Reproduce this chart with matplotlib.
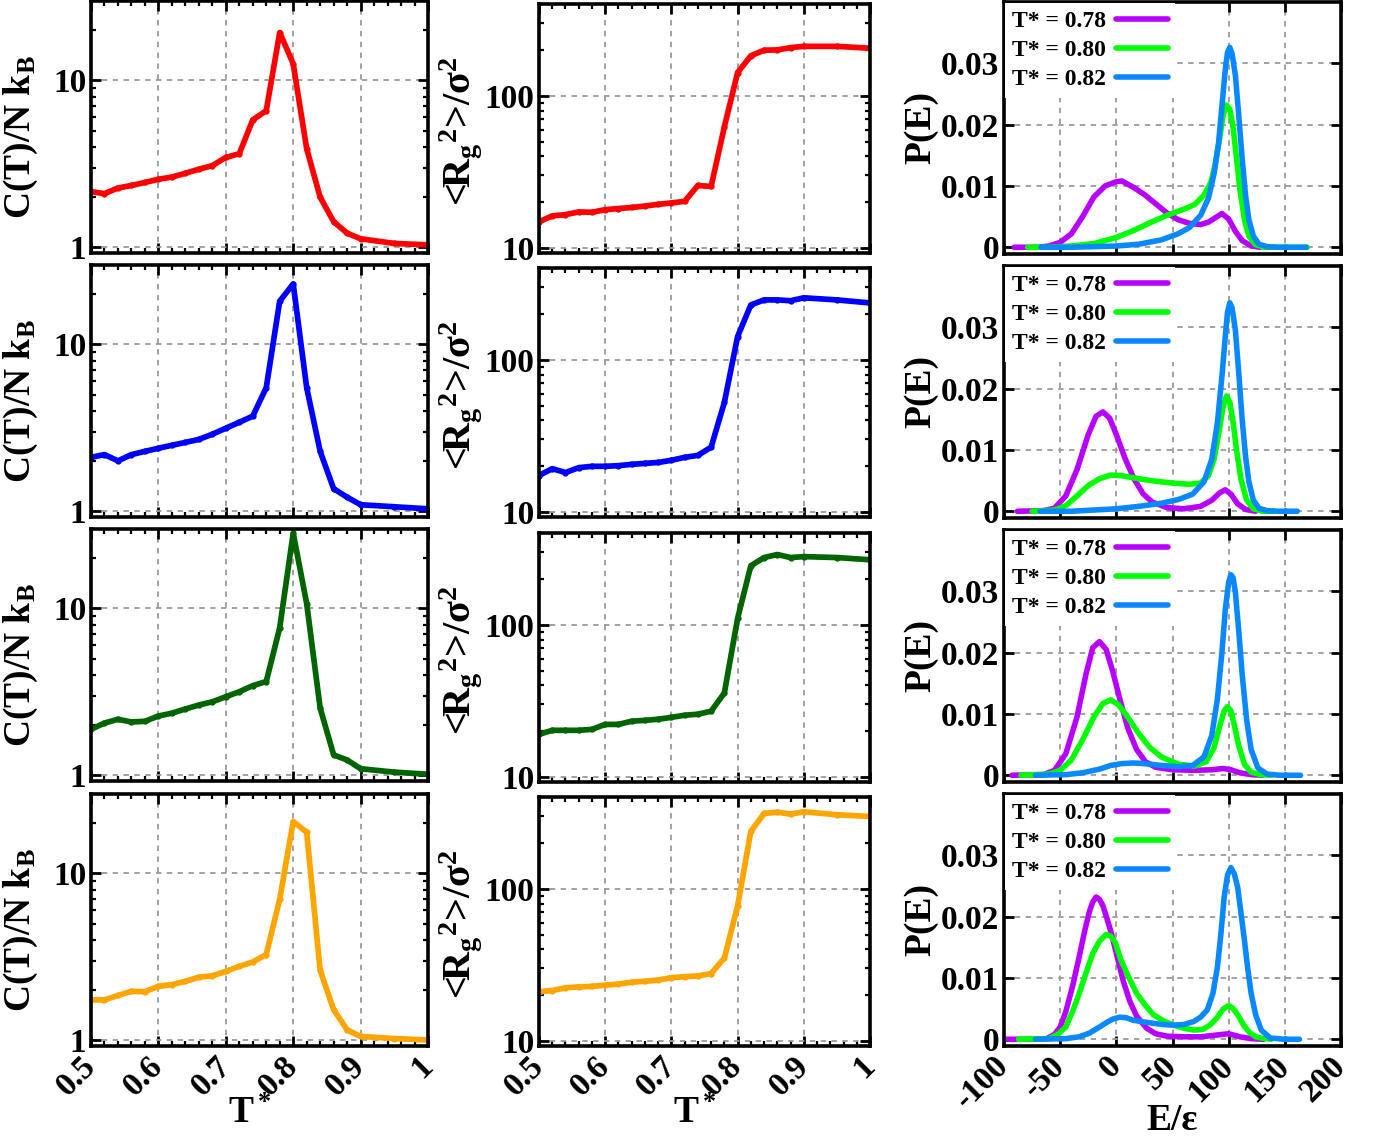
import matplotlib
matplotlib.use("Agg")
import matplotlib.pyplot as plt
from matplotlib.ticker import LogLocator, NullFormatter, MultipleLocator

plt.rcParams['font.family'] = ['Liberation Serif', 'DejaVu Serif']
plt.rcParams['font.weight'] = 'bold'
plt.rcParams['axes.labelweight'] = 'bold'
plt.rcParams['mathtext.fontset'] = 'custom'
plt.rcParams['mathtext.rm'] = 'Liberation Serif:bold'
plt.rcParams['mathtext.it'] = 'Liberation Serif:bold'
plt.rcParams['mathtext.bf'] = 'Liberation Serif:bold'

# temperatures (shared by left and middle columns)
T = [0.50, 0.52, 0.54, 0.56, 0.58, 0.60, 0.62, 0.64, 0.66, 0.68, 0.70, 0.72,
     0.74, 0.76, 0.78, 0.80, 0.82, 0.84, 0.86, 0.88, 0.90, 0.95, 1.00]

# specific heat C(T)/N kB
C1 = [2.15, 2.09, 2.26, 2.34, 2.44, 2.55, 2.63, 2.77, 2.93, 3.08, 3.45, 3.63,
      5.80, 6.58, 19.4, 12.6, 3.89, 1.99, 1.42, 1.21, 1.12, 1.05, 1.03]
C2 = [2.10, 2.18, 2.00, 2.18, 2.28, 2.38, 2.48, 2.58, 2.69, 2.89, 3.14, 3.41,
      3.71, 5.50, 18.2, 23.1, 5.50, 2.28, 1.36, 1.21, 1.09, 1.06, 1.03]
C3 = [1.88, 2.05, 2.16, 2.08, 2.10, 2.26, 2.35, 2.49, 2.63, 2.75, 2.95, 3.16,
      3.44, 3.64, 7.66, 28.3, 10.7, 2.52, 1.32, 1.23, 1.09, 1.04, 1.01]
C4 = [1.74, 1.74, 1.85, 1.96, 1.95, 2.10, 2.15, 2.25, 2.38, 2.43, 2.58, 2.77,
      2.94, 3.26, 7.00, 20.5, 17.7, 2.62, 1.52, 1.15, 1.05, 1.02, 1.00]

# radius of gyration <Rg^2>/sigma^2
R1 = [14.9, 16.3, 16.6, 17.3, 17.2, 17.9, 18.2, 18.5, 18.9, 19.4, 19.8, 20.3,
      25.8, 25.4, 62.5, 142, 183, 199, 200, 207, 211, 211, 205]
R2 = [17.4, 19.3, 18.2, 19.6, 20.0, 20.0, 20.2, 20.6, 20.9, 21.2, 21.9, 22.9,
      23.6, 26.7, 52.5, 142, 229, 247, 247, 244, 255, 247, 236]
R3 = [19.1, 20.3, 20.3, 20.3, 20.6, 22.2, 22.2, 23.3, 23.6, 24.0, 24.7, 25.5,
      25.9, 27.1, 35.7, 110, 244, 276, 289, 276, 280, 276, 267]
R4 = [21.1, 21.5, 22.4, 22.7, 22.9, 23.3, 23.7, 24.4, 24.7, 25.2, 26.1, 26.5,
      26.8, 27.8, 35.1, 77.1, 238, 312, 318, 309, 320, 306, 298]

# energy distributions P(E), row 1
E1_78 = [-91, -70, -60, -50, -40, -30, -20, -10, 0, 5, 15, 25, 35, 45, 55, 65, 75, 82, 88, 94, 100, 106, 112, 120, 128]
P1_78 = [0, 0, 0.0002, 0.0008, 0.0022, 0.005, 0.0082, 0.0100, 0.0107, 0.0108, 0.0098, 0.0086, 0.0071,
         0.0056, 0.0045, 0.0039, 0.0037, 0.0041, 0.0048, 0.0055, 0.0046, 0.0026, 0.0011, 0.0002, 0]
E1_80 = [-79, -60, -40, -20, 0, 15, 30, 45, 60, 70, 78, 84, 88, 92, 95, 98, 101, 104, 107, 110, 114, 118, 124, 132, 150, 170]
P1_80 = [0, 0, 0.0002, 0.0006, 0.0016, 0.0027, 0.0040, 0.0052, 0.0062, 0.0070, 0.0085, 0.0105, 0.0135,
         0.0178, 0.0215, 0.0232, 0.0225, 0.0195, 0.0145, 0.0095, 0.0045, 0.0018, 0.0004, 0, 0, 0]
E1_82 = [-67, -40, -20, 0, 20, 40, 55, 65, 75, 82, 87, 91, 94, 97, 99, 101, 103, 106, 109, 112, 115, 118, 122, 127, 134, 145, 169]
P1_82 = [0, 0, 0.0001, 0.0002, 0.0005, 0.0012, 0.0022, 0.0032, 0.0052, 0.008, 0.012, 0.017, 0.023,
         0.029, 0.0318, 0.0326, 0.0316, 0.0280, 0.0215, 0.0145, 0.0085, 0.0045, 0.0018, 0.0005, 0.0001, 0, 0]

# row 2
E2_78 = [-88, -65, -55, -45, -35, -25, -18, -12, -6, 0, 8, 16, 24, 32, 45, 60, 75, 85, 92, 97, 102, 108, 115, 124]
P2_78 = [0, 0.0001, 0.0005, 0.0025, 0.0068, 0.0125, 0.0155, 0.0162, 0.0152, 0.0125, 0.0085, 0.0052,
         0.0028, 0.0015, 0.0006, 0.0004, 0.0008, 0.0018, 0.0030, 0.0035, 0.0028, 0.0012, 0.0003, 0]
E2_80 = [-75, -55, -45, -35, -25, -15, -5, 5, 20, 35, 50, 65, 75, 82, 87, 91, 95, 98, 101, 104, 107, 111, 116, 122, 130, 140]
P2_80 = [0, 0.0002, 0.0009, 0.0025, 0.0042, 0.0053, 0.0059, 0.0058, 0.0053, 0.0049, 0.0046, 0.0044, 0.0046,
         0.0058, 0.0085, 0.0125, 0.0170, 0.0188, 0.0178, 0.0145, 0.0100, 0.0052, 0.0018, 0.0004, 0, 0]
E2_82 = [-68, -40, -20, 0, 20, 40, 55, 68, 78, 85, 90, 94, 97, 99, 101, 103, 106, 109, 112, 115, 118, 122, 127, 134, 145, 161]
P2_82 = [0, 0, 0.0002, 0.0004, 0.0008, 0.0013, 0.0019, 0.0028, 0.0048, 0.0085, 0.0145, 0.022, 0.0285,
         0.0325, 0.0340, 0.0332, 0.0295, 0.0225, 0.0150, 0.0090, 0.0048, 0.0018, 0.0005, 0.0001, 0, 0]

# row 3
E3_78 = [-93, -65, -55, -45, -35, -27, -21, -15, -9, -3, 3, 10, 18, 26, 35, 50, 70, 85, 95, 102, 110, 120, 130]
P3_78 = [0, 0.0001, 0.0008, 0.0035, 0.0095, 0.0165, 0.0208, 0.0218, 0.0205, 0.0168, 0.0125, 0.0078,
         0.0042, 0.0022, 0.0013, 0.0009, 0.0008, 0.0009, 0.0011, 0.0009, 0.0004, 0.0001, 0]
E3_80 = [-85, -60, -50, -40, -30, -20, -12, -5, 2, 10, 20, 30, 40, 55, 70, 80, 87, 92, 96, 99, 102, 105, 109, 114, 120, 128, 138]
P3_80 = [0, 0.0002, 0.0008, 0.0025, 0.0058, 0.0095, 0.0117, 0.0123, 0.0115, 0.0095, 0.0068, 0.0045,
         0.0030, 0.0018, 0.0015, 0.0022, 0.0045, 0.0080, 0.0105, 0.0112, 0.0105, 0.0082, 0.0048, 0.0018,
         0.0005, 0.0001, 0]
E3_82 = [-72, -45, -30, -15, -5, 5, 15, 25, 40, 55, 68, 78, 85, 90, 94, 97, 100, 102, 104, 106, 109, 112, 116, 120, 126, 134, 145, 164]
P3_82 = [0, 0.0001, 0.0004, 0.0010, 0.0016, 0.0019, 0.0020, 0.0019, 0.0016, 0.0014, 0.0016, 0.0030,
         0.0065, 0.0125, 0.020, 0.027, 0.0315, 0.0327, 0.0322, 0.0298, 0.0235, 0.0165, 0.0090, 0.0042, 0.0012,
         0.0002, 0, 0]

# row 4
E4_78 = [-98, -70, -62, -55, -50, -45, -39, -33, -28, -24, -21, -18, -15, -12, -8, -4, 0, 6, 12, 18,
         27, 35, 45, 60, 75, 90, 100, 110, 120, 131]
P4_78 = [0, 0, 0.0001, 0.0008, 0.0020, 0.0045, 0.0086, 0.0135, 0.0178, 0.0208, 0.0224, 0.0232, 0.0228,
         0.0218, 0.0195, 0.0170, 0.0140, 0.0096, 0.0062, 0.0038, 0.0018, 0.0009, 0.0005, 0.0004, 0.0004,
         0.0007, 0.0009, 0.0004, 0.0001, 0]
E4_80 = [-87, -60, -52, -45, -39, -33, -27, -21, -15, -9, -5, -1, 4, 10, 18, 26, 33, 42, 51, 60, 69,
         77, 84, 90, 95, 100, 104, 108, 113, 118, 124, 129, 138]
P4_80 = [0, 0.0001, 0.0008, 0.0020, 0.0045, 0.0075, 0.0108, 0.0140, 0.0160, 0.0171, 0.0168, 0.0158,
         0.0130, 0.0105, 0.0075, 0.0055, 0.0040, 0.0030, 0.0023, 0.0018, 0.0015, 0.0016, 0.0024, 0.0036,
         0.0049, 0.0055, 0.0050, 0.0040, 0.0024, 0.0012, 0.0004, 0.0002, 0]
E4_82 = [-72, -45, -33, -24, -15, -8, -3, 3, 9, 15, 25, 33, 42, 51, 60, 69, 75, 81, 86, 90, 93, 96,
         99, 102, 105, 108, 111, 114, 117, 120, 124, 129, 137, 150, 163]
P4_82 = [0, 0.0001, 0.0004, 0.0010, 0.0020, 0.0028, 0.0033, 0.0036, 0.0035, 0.0031, 0.0028, 0.0026,
         0.0024, 0.0023, 0.0024, 0.0029, 0.0036, 0.0048, 0.0075, 0.0118, 0.0170, 0.0232, 0.0268, 0.0280,
         0.0270, 0.0248, 0.0205, 0.0162, 0.0115, 0.0075, 0.0040, 0.0015, 0.0002, 0, 0]

row_colors = ['#ff0000', '#0000ff', '#006400', '#ffa500']
pe_colors = ['#b800ff', '#00ff00', '#0a88ff']
pe_labels = ['T* = 0.78', 'T* = 0.80', 'T* = 0.82']

C_all = [C1, C2, C3, C4]
R_all = [R1, R2, R3, R4]
PE_all = [[(E1_78, P1_78), (E1_80, P1_80), (E1_82, P1_82)],
          [(E2_78, P2_78), (E2_80, P2_80), (E2_82, P2_82)],
          [(E3_78, P3_78), (E3_80, P3_80), (E3_82, P3_82)],
          [(E4_78, P4_78), (E4_80, P4_80), (E4_82, P4_82)]]

W, H = 1380, 1139
fig = plt.figure(figsize=(W / 100, H / 100), dpi=100)


def add_ax(px, py, w, h):
    return fig.add_axes([px / W, 1 - (py + h) / H, w / W, h / H])


def style(ax):
    for s in ax.spines.values():
        s.set_linewidth(2.6)
    ax.tick_params(which='both', direction='in', top=True, right=True, labelsize=24)
    ax.tick_params(which='major', length=7, width=2)
    ax.tick_params(which='minor', length=3.5, width=1.6)
    ax.grid(True, which='major', ls=(0, (3, 3)), color='#9a9a9a', lw=1.3)
    ax.set_axisbelow(True)


def rot_xlabels(ax):
    for lab in ax.get_xticklabels():
        lab.set_rotation(45)
        lab.set_ha('right')
        lab.set_va('center')
        lab.set_rotation_mode('anchor')


left_tops = [1, 265, 529, 794]
mid_tops = [4, 268, 533, 797]
right_tops = [2, 266, 530, 794]

for i in range(4):
    last = (i == 3)
    col = row_colors[i]

    # left: specific heat
    ax = add_ax(91, left_tops[i], 337, 252)
    style(ax)
    ax.plot(T, C_all[i], color=col, lw=4.1, marker='o', ms=3.5)
    ax.set_yscale('log')
    ax.set_ylim(0.92, 30)
    ax.set_yticks([1, 10])
    ax.set_yticklabels(['1', '10'])
    ax.yaxis.set_minor_locator(LogLocator(base=10, subs=range(2, 10)))
    ax.yaxis.set_minor_formatter(NullFormatter())
    ax.set_xlim(0.5, 1.0)
    ax.set_xticks([0.5, 0.6, 0.7, 0.8, 0.9, 1.0])
    ax.set_xticklabels(['0.5', '0.6', '0.7', '0.8', '0.9', '1'])
    ax.xaxis.set_minor_locator(MultipleLocator(0.02))
    ax.set_ylabel(r'C(T)/N k$_B$', fontsize=27)
    ax.yaxis.set_label_coords(-0.15, 0.46)
    if last:
        rot_xlabels(ax)
        ax.tick_params(axis='x', which='major', pad=11)
        ax.set_xlabel(r'T$^*$', fontsize=27)
        ax.xaxis.set_label_coords(0.47, -0.2)
    else:
        ax.tick_params(labelbottom=False)

    # middle: radius of gyration
    ax = add_ax(539, mid_tops[i], 331, 249)
    style(ax)
    ax.plot(T, R_all[i], color=col, lw=4.1, marker='o', ms=3.5)
    ax.set_yscale('log')
    ax.set_ylim(9.3, 400)
    ax.set_yticks([10, 100])
    ax.set_yticklabels(['10', '100'])
    ax.yaxis.set_minor_locator(LogLocator(base=10, subs=range(2, 10)))
    ax.yaxis.set_minor_formatter(NullFormatter())
    ax.set_xlim(0.5, 1.0)
    ax.set_xticks([0.5, 0.6, 0.7, 0.8, 0.9, 1.0])
    ax.set_xticklabels(['0.5', '0.6', '0.7', '0.8', '0.9', '1'])
    ax.xaxis.set_minor_locator(MultipleLocator(0.02))
    ax.set_ylabel(r'<R$_g$$^2$>/σ$^2$', fontsize=29)
    ax.yaxis.set_label_coords(-0.165, 0.49)
    if last:
        rot_xlabels(ax)
        ax.tick_params(axis='x', which='major', pad=11)
        ax.set_xlabel(r'T$^*$', fontsize=27)
        ax.xaxis.set_label_coords(0.47, -0.2)
    else:
        ax.tick_params(labelbottom=False)

    # right: energy distributions
    ax = add_ax(1004, right_tops[i], 337, 252)
    style(ax)
    for (e, p), c, lab in zip(PE_all[i], pe_colors, pe_labels):
        ax.plot(e, p, color=c, lw=4.0, label=lab, solid_capstyle='round', solid_joinstyle='round')
    ax.set_xlim(-100, 200)
    ax.set_ylim(-0.0011, 0.04)
    ax.set_xticks([-100, -50, 0, 50, 100, 150, 200])
    ax.set_xticklabels(['-100', '-50', '0', '50', '100', '150', '200'])
    ax.set_yticks([0, 0.01, 0.02, 0.03])
    ax.set_yticklabels(['0', '0.01', '0.02', '0.03'])
    ax.set_ylabel('P(E)', fontsize=27)
    ax.yaxis.set_label_coords(-0.195, 0.5)
    ax.legend(loc='upper left', markerfirst=False, frameon=True, fancybox=False,
              facecolor='white', edgecolor='none', framealpha=1,
              handlelength=2.2, labelspacing=0.33, borderaxespad=0.05,
              borderpad=0.3, handletextpad=0.4, prop={'size': 17, 'weight': 'bold'})
    if last:
        rot_xlabels(ax)
        ax.tick_params(axis='x', which='major', pad=11)
        ax.set_xlabel('E/ε', fontsize=27)
        ax.xaxis.set_label_coords(0.5, -0.225)
    else:
        ax.tick_params(labelbottom=False)

fig.savefig('out.png', dpi=100)
